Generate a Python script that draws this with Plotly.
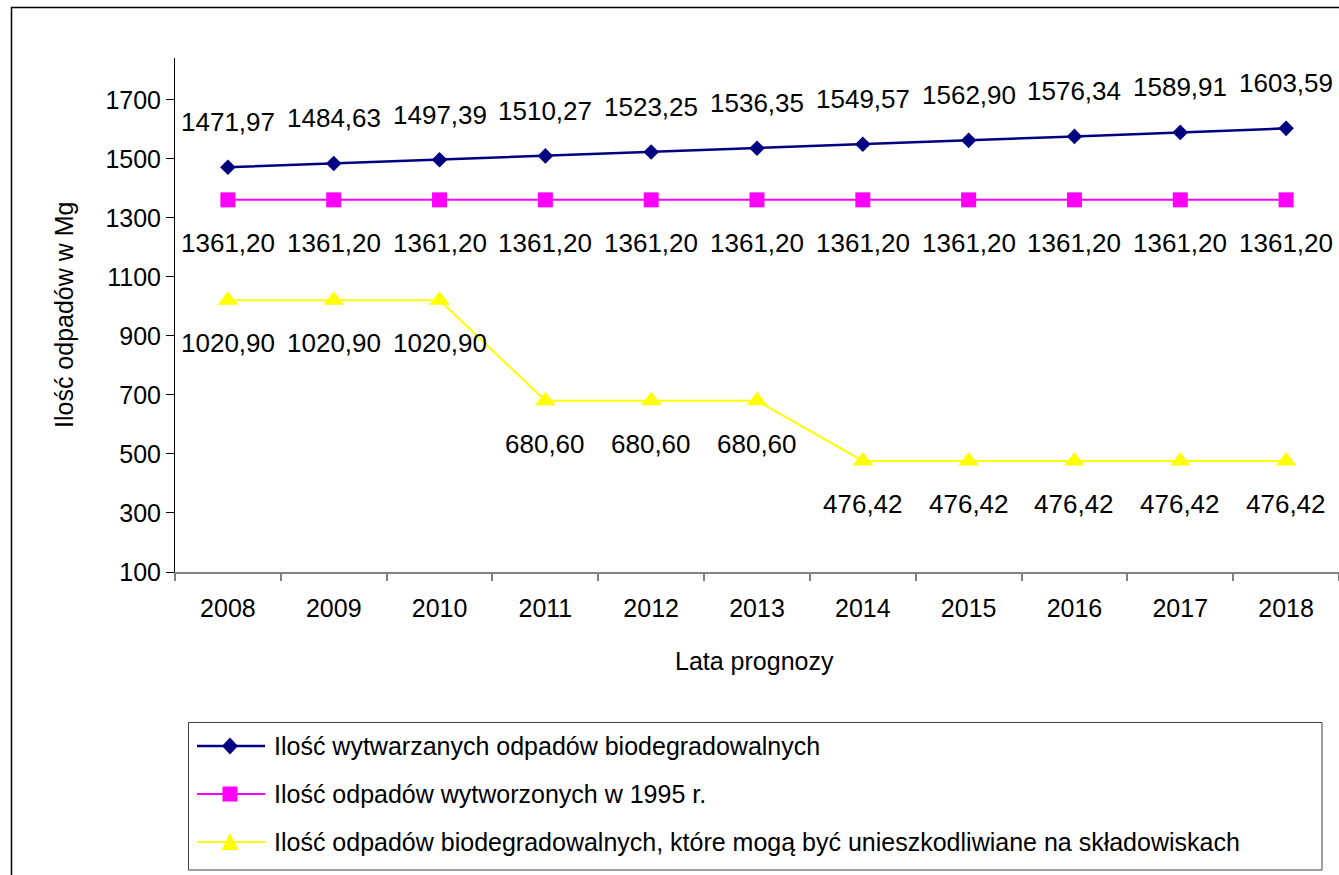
import plotly.graph_objects as go

# Forecast years and series values (Mg)
years = ["2008", "2009", "2010", "2011", "2012", "2013",
         "2014", "2015", "2016", "2017", "2018"]
wytwarzane = [1471.97, 1484.63, 1497.39, 1510.27, 1523.25, 1536.35,
              1549.57, 1562.90, 1576.34, 1589.91, 1603.59]
wytworzone_1995 = [1361.20] * 11
skladowiska = [1020.90, 1020.90, 1020.90, 680.60, 680.60, 680.60,
               476.42, 476.42, 476.42, 476.42, 476.42]

series_names = [
    "Ilość wytwarzanych odpadów biodegradowalnych",
    "Ilość odpadów wytworzonych w 1995 r.",
    "Ilość odpadów biodegradowalnych, które mogą być unieszkodliwiane na składowiskach",
]

y_ticks = [100, 300, 500, 700, 900, 1100, 1300, 1500, 1700]

FONT = "Liberation Sans, Arial, sans-serif"
W, H = 1339, 875
L, R, T, B = 175, 0, 58, 303
PW, PH = W - L - R, H - T - B

NAVY, MAGENTA, YELLOW = "#000080", "#FF00FF", "#FFFF00"

styles = [
    dict(color=NAVY, symbol="diamond", size=12, width=2.5, shift=45),
    dict(color=MAGENTA, symbol="square", size=15, width=2, shift=-43),
    dict(color=YELLOW, symbol="triangle-up", size=18, width=2, shift=-43),
]
series = [wytwarzane, wytworzone_1995, skladowiska]


def px_x(px):
    return (px - L) / PW


def px_y(py):
    return (H - B - py) / PH


def fmt(v):
    return f"{v:.2f}".replace(".", ",")


fig = go.Figure()
annotations = []

for name, vals, st in zip(series_names, series, styles):
    fig.add_trace(go.Scatter(
        x=years, y=vals, name=name, mode="lines+markers",
        line=dict(color=st["color"], width=st["width"]),
        marker=dict(symbol=st["symbol"], size=st["size"], color=st["color"],
                    line=dict(width=0)),
        showlegend=False, hoverinfo="skip",
    ))
    for i, v in enumerate(vals):
        annotations.append(dict(
            x=i, y=v, xref="x", yref="y", text=fmt(v), showarrow=False,
            yshift=st["shift"], font=dict(family=FONT, size=26, color="black"),
        ))


# Legend symbol outlines (page pixels, centred on cx, cy)
def symbol_path(kind, cx, cy):
    if kind == "diamond":
        pts = [(cx, cy - 8.5), (cx + 8, cy), (cx, cy + 8.5), (cx - 8, cy)]
    elif kind == "square":
        pts = [(cx - 7.5, cy - 7.5), (cx + 7.5, cy - 7.5),
               (cx + 7.5, cy + 7.5), (cx - 7.5, cy + 7.5)]
    else:
        pts = [(cx, cy - 9), (cx + 8.5, cy + 8), (cx - 8.5, cy + 8)]
    return "M " + " L ".join(f"{px_x(x):.5f},{px_y(y):.5f}" for x, y in pts) + " Z"


legend_rows = [746, 794, 842]
shapes = [
    dict(type="rect", xref="paper", yref="paper",
         x0=px_x(11.5), x1=px_x(1360), y0=px_y(890), y1=px_y(7.5),
         line=dict(color="black", width=1.5), fillcolor="rgba(0,0,0,0)"),
    dict(type="rect", xref="paper", yref="paper",
         x0=px_x(188.5), x1=px_x(1322), y0=px_y(870), y1=px_y(722.5),
         line=dict(color="#404040", width=1), fillcolor="rgba(0,0,0,0)"),
]
for ry, st, name in zip(legend_rows, styles, series_names):
    shapes.append(dict(type="line", xref="paper", yref="paper",
                       x0=px_x(197), x1=px_x(265), y0=px_y(ry), y1=px_y(ry),
                       line=dict(color=st["color"], width=st["width"])))
    shapes.append(dict(type="path", xref="paper", yref="paper",
                       path=symbol_path(st["symbol"], 230, ry),
                       fillcolor=st["color"], line=dict(width=0)))
    annotations.append(dict(
        x=px_x(272), y=px_y(ry), xref="paper", yref="paper", text=name,
        showarrow=False, xanchor="left", yanchor="middle",
        font=dict(family=FONT, size=25, color="black"),
    ))

annotations.append(dict(
    x=px_x(64), y=0.5, xref="paper", yref="paper", text="Ilość odpadów w Mg",
    textangle=-90, showarrow=False, xanchor="center", yanchor="middle",
    font=dict(family=FONT, size=25, color="black"),
))
annotations.append(dict(
    x=px_x(754), y=px_y(661), xref="paper", yref="paper", text="Lata prognozy",
    showarrow=False, xanchor="center", yanchor="middle",
    font=dict(family=FONT, size=25, color="black"),
))

fig.update_layout(
    width=W, height=H,
    margin=dict(l=L, r=R, t=T, b=B, pad=0),
    paper_bgcolor="white", plot_bgcolor="white",
    font=dict(family=FONT, size=25, color="black"),
    showlegend=False,
    xaxis=dict(
        type="category", range=[-0.5, 10.5], tickson="boundaries",
        ticks="outside", ticklen=7, tickcolor="#808080", tickwidth=1.5,
        showline=True, linecolor="#808080", linewidth=2,
        showgrid=False, zeroline=False, fixedrange=True,
        ticklabelstandoff=13,
        tickfont=dict(family=FONT, size=25, color="black"),
    ),
    yaxis=dict(
        range=[100, 1842], tickvals=y_ticks, ticktext=[str(v) for v in y_ticks],
        ticks="outside", ticklen=8, tickcolor="black", tickwidth=1,
        showline=True, linecolor="black", linewidth=1,
        showgrid=False, zeroline=False, fixedrange=True,
        tickfont=dict(family=FONT, size=25, color="black"),
    ),
    shapes=shapes,
    annotations=annotations,
)

fig.write_html("out.html")
